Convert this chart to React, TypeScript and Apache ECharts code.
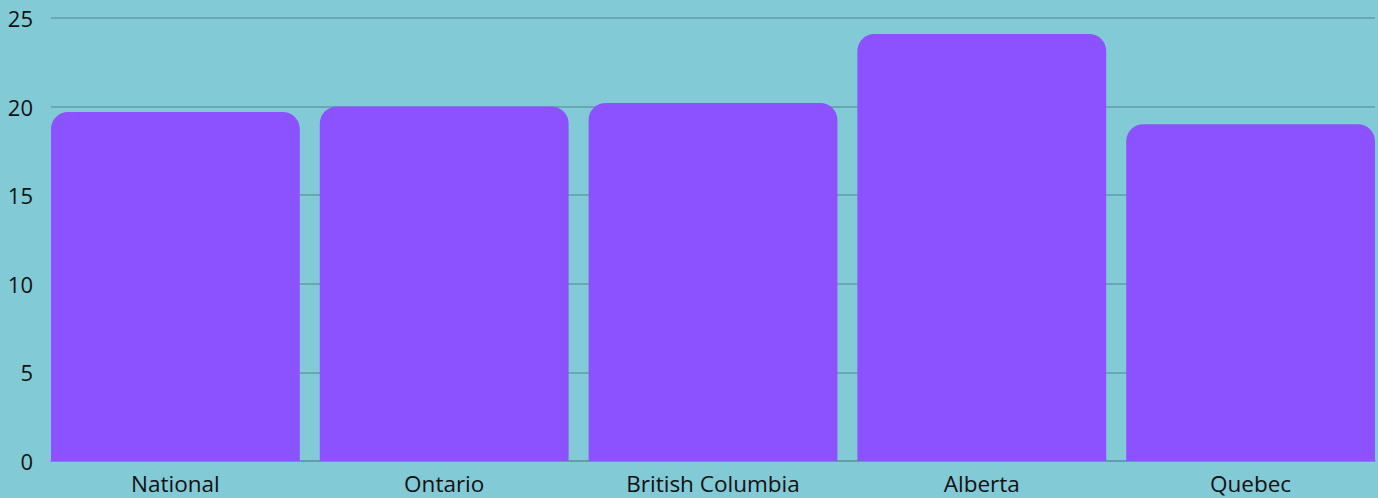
import React, { useEffect, useRef } from "react";
import * as echarts from "echarts";

const categories = ["National", "Ontario", "British Columbia", "Alberta", "Quebec"];
const values = [19.7, 20.0, 20.2, 24.1, 19.0];
const yMin = 0;
const yMax = 25;
const yStep = 5;

const BG = "#82CAD6";
const BAR = "#8C52FF";
const GRID_LINE = "#5E9CA6";
const TEXT = "#111111";
const FONT = "'Open Sans', 'Noto Sans', sans-serif";

// The canvas is a little wider than the visible frame so the last
// category slot can run past the right edge.
const FRAME_W = 1378;
const FRAME_H = 498;
const CANVAS_W = 1400;

export default function App() {
  const ref = useRef<HTMLDivElement>(null);

  useEffect(() => {
    if (!ref.current) return;
    const chart = echarts.init(ref.current, undefined, { renderer: "svg" });
    chart.setOption({
      animation: false,
      backgroundColor: BG,
      textStyle: { fontFamily: FONT },
      grid: [
        // value axis, split lines and the baseline
        { left: 51, width: 1324, top: 18, bottom: 37 },
        // bars and category labels
        { left: 41, width: 1344, top: 18, bottom: 37 },
      ],
      xAxis: [
        {
          type: "category",
          gridIndex: 0,
          data: categories,
          axisLine: { show: true, lineStyle: { color: GRID_LINE, width: 1.5 } },
          axisTick: { show: false },
          axisLabel: { show: false },
        },
        {
          type: "category",
          gridIndex: 1,
          data: categories,
          axisLine: { show: false },
          axisTick: { show: false },
          axisLabel: {
            color: TEXT,
            fontSize: 22.5,
            fontFamily: FONT,
            margin: 11,
          },
        },
      ],
      yAxis: [
        {
          type: "value",
          gridIndex: 0,
          min: yMin,
          max: yMax,
          interval: yStep,
          axisLine: { show: false },
          axisTick: { show: false },
          axisLabel: {
            color: TEXT,
            fontSize: 22,
            fontFamily: FONT,
            margin: 18,
          },
          splitLine: { show: true, lineStyle: { color: GRID_LINE, width: 1.5 } },
        },
        {
          type: "value",
          gridIndex: 1,
          min: yMin,
          max: yMax,
          interval: yStep,
          show: false,
          splitLine: { show: false },
        },
      ],
      series: [
        {
          type: "bar",
          xAxisIndex: 1,
          yAxisIndex: 1,
          data: values,
          barCategoryGap: "7.44%",
          itemStyle: { color: BAR, borderRadius: [17, 17, 0, 0] },
          z: 3,
        },
      ],
    });
    return () => chart.dispose();
  }, []);

  return (
    <div
      style={{
        position: "fixed",
        left: 0,
        top: 0,
        width: FRAME_W,
        height: FRAME_H,
        overflow: "hidden",
        background: BG,
      }}
    >
      <div ref={ref} style={{ width: CANVAS_W, height: FRAME_H }} />
    </div>
  );
}
